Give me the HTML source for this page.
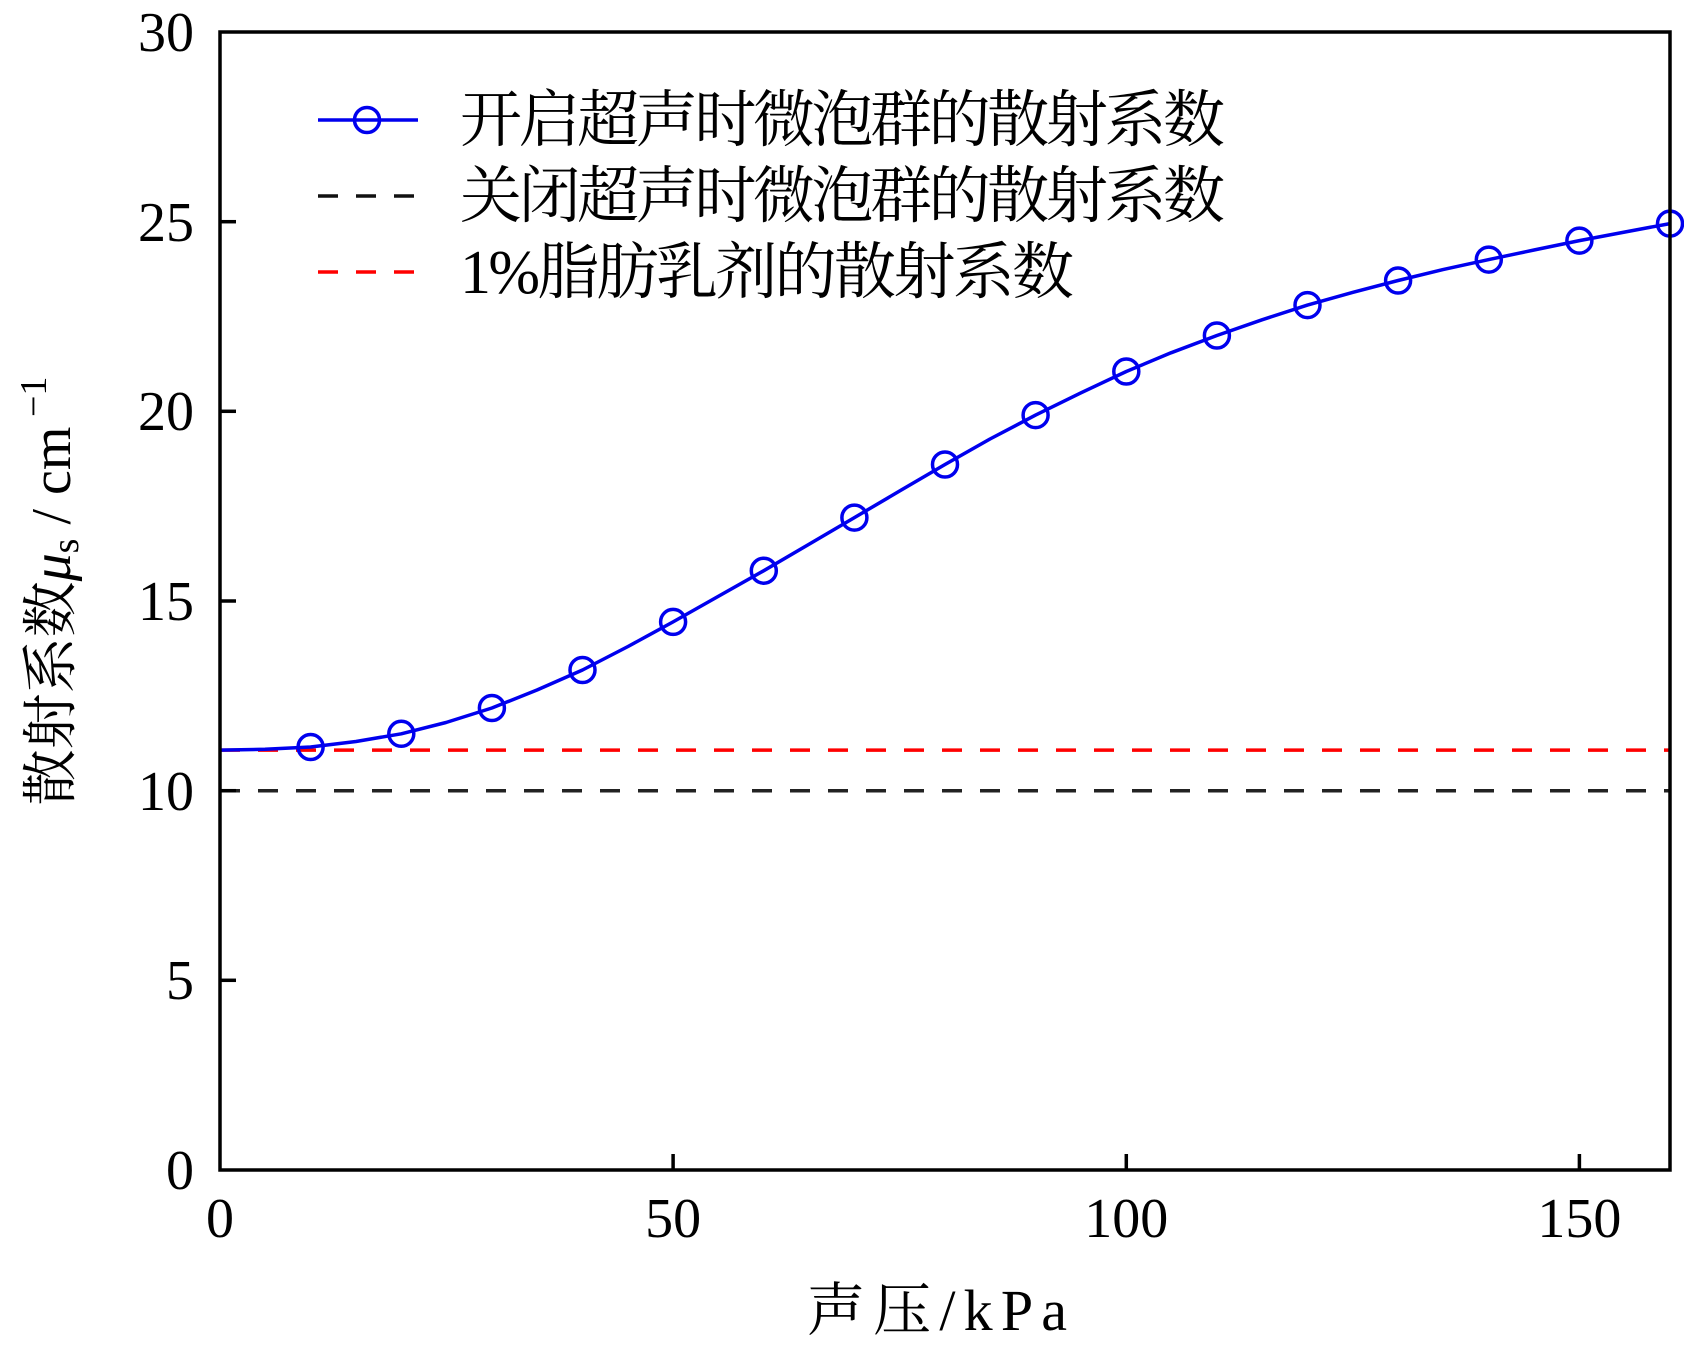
<!DOCTYPE html>
<html><head><meta charset="utf-8"><style>html,body{margin:0;padding:0;background:#fff}svg{display:block}</style></head>
<body>
<svg width="1684" height="1348" viewBox="0 0 1684 1348" xmlns="http://www.w3.org/2000/svg">
<rect width="1684" height="1348" fill="#fff"/>
<line x1="220" y1="790.7" x2="1670" y2="790.7" stroke="#222" stroke-width="3.5" stroke-dasharray="20 18"/>
<line x1="220" y1="750.1" x2="1670" y2="750.1" stroke="#f00" stroke-width="3.5" stroke-dasharray="20 18"/>
<polyline fill="none" stroke="#0000ee" stroke-width="3.5" stroke-linejoin="round" points="220,750.1 265,749.3 310.6,747 356,741.5 401.3,733.8 446,722.5 491.9,708 537,690 582.5,670 628,646.5 673.1,621.9 718,596.5 763.8,570.7 809,544.2 854.4,517.6 900,490.8 945,464.5 990,439 1035.6,415.1 1081,392.8 1126.3,371.5 1171,352.8 1216.9,335.5 1262,319.8 1307.5,305.1 1353,292.3 1398.1,280.5 1443,269.6 1488.8,259.6 1534,250 1579.4,240.6 1625,232 1670,223.6"/>
<g fill="none" stroke="#0000ee" stroke-width="3.5">
<circle cx="310.6" cy="747" r="12.5"/><circle cx="401.3" cy="733.8" r="12.5"/><circle cx="491.9" cy="708" r="12.5"/><circle cx="582.5" cy="670" r="12.5"/><circle cx="673.1" cy="621.9" r="12.5"/><circle cx="763.8" cy="570.7" r="12.5"/><circle cx="854.4" cy="517.6" r="12.5"/><circle cx="945" cy="464.5" r="12.5"/><circle cx="1035.6" cy="415.1" r="12.5"/><circle cx="1126.3" cy="371.5" r="12.5"/><circle cx="1216.9" cy="335.5" r="12.5"/><circle cx="1307.5" cy="305.1" r="12.5"/><circle cx="1398.1" cy="280.5" r="12.5"/><circle cx="1488.8" cy="259.6" r="12.5"/><circle cx="1579.4" cy="240.6" r="12.5"/><circle cx="1670" cy="223.6" r="12.5"/>
</g>
<rect x="220" y="32" width="1450" height="1138" fill="none" stroke="#000" stroke-width="3.5"/>
<g stroke="#000" stroke-width="3.5">
<line x1="673.1" y1="1170" x2="673.1" y2="1154"/><line x1="1126.3" y1="1170" x2="1126.3" y2="1154"/><line x1="1579.4" y1="1170" x2="1579.4" y2="1154"/>
<line x1="220" y1="980.3" x2="236" y2="980.3"/><line x1="220" y1="790.7" x2="236" y2="790.7"/><line x1="220" y1="601" x2="236" y2="601"/><line x1="220" y1="411.3" x2="236" y2="411.3"/><line x1="220" y1="221.7" x2="236" y2="221.7"/>
</g>
<g font-family="Liberation Serif, serif" font-size="56" fill="#000">
<g text-anchor="middle">
<text x="220" y="1237">0</text><text x="673.1" y="1237">50</text><text x="1126.3" y="1237">100</text><text x="1579.4" y="1237">150</text>
</g>
<g text-anchor="end">
<text x="194" y="1189">0</text><text x="194" y="999">5</text><text x="194" y="810">10</text><text x="194" y="620">15</text><text x="194" y="430">20</text><text x="194" y="241">25</text><text x="194" y="51">30</text>
</g>
</g>
<g font-family="Liberation Serif, Noto Serif CJK SC, serif" fill="#000">
<text x="807" y="1330" font-size="58" textLength="260" lengthAdjust="spacing">声压/kPa</text>
<text transform="translate(70,591) rotate(-90)" text-anchor="middle" font-size="56">散射系数<tspan font-style="italic">μ</tspan><tspan font-size="38" dy="8">s</tspan><tspan dy="-8"> / cm</tspan><tspan font-size="38" dy="-24"> −1</tspan></text>
<text x="460" y="141" font-size="62" textLength="765">开启超声时微泡群的散射系数</text>
<text x="460" y="217" font-size="62" textLength="765">关闭超声时微泡群的散射系数</text>
<text x="460" y="293" font-size="62" textLength="614">1%脂肪乳剂的散射系数</text>
</g>
<line x1="318" y1="120" x2="418" y2="120" stroke="#0000ee" stroke-width="3.5"/>
<circle cx="367" cy="120" r="12.5" fill="none" stroke="#0000ee" stroke-width="3.5"/>
<line x1="318" y1="196" x2="418" y2="196" stroke="#111" stroke-width="3.5" stroke-dasharray="20 18"/>
<line x1="318" y1="272" x2="418" y2="272" stroke="#f00" stroke-width="3.5" stroke-dasharray="20 18"/>
</svg>
</body></html>
